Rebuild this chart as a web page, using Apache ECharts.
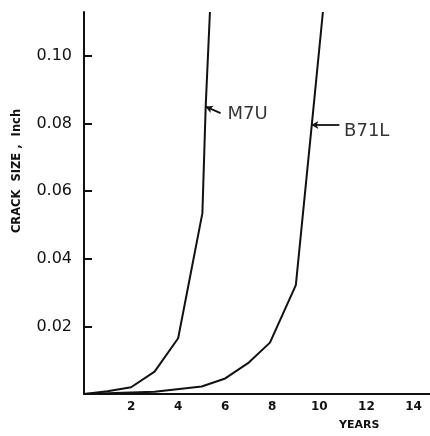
<!DOCTYPE html>
<html><head><meta charset="utf-8">
<script src="https://cdn.jsdelivr.net/npm/echarts@6/dist/echarts.min.js"></script>
<style>html,body{margin:0;padding:0;background:#fff}#c{width:430px;height:436px}</style>
</head><body><div id="c"></div>
<script>
var m7uX = [0, 1, 2, 3, 4, 5.03, 5.17, 5.35];
var m7uY = [0, 0.0008, 0.002, 0.0066, 0.0165, 0.0535, 0.085, 0.113];
var b71lX = [0, 3, 5, 6, 7, 7.9, 9.0, 9.79, 10.15];
var b71lY = [0, 0.0007, 0.0022, 0.0046, 0.0093, 0.0152, 0.0322, 0.0875, 0.113];
var xTicks = [2, 4, 6, 8, 10, 12, 14];
var yTicks = [0.02, 0.04, 0.06, 0.08, 0.10];
var seriesNames = ['M7U', 'B71L'];
// annotation anchors (data coords): [curveX, curveY, arrowEndX, arrowEndY, textX, textY]
var labelM7U = [5.17, 0.085, 5.8, 0.0831, 6.1, 0.0828];
var labelB71L = [9.66, 0.0796, 10.85, 0.0796, 11.05, 0.0778];

function pairs(xs, ys){ return xs.map(function(x,i){ return [x, ys[i]]; }); }
function ann(a){
  return {
    silent: true,
    symbol: ['arrow','none'], symbolSize: [6, 7],
    lineStyle: {color:'#111', width: 1.8, type:'solid'},
    label: {show:false},
    emphasis: {disabled: true},
    data: [[{coord:[a[0],a[1]]},{coord:[a[2],a[3]]}]]
  };
}
var chart = echarts.init(document.getElementById('c'));
chart.setOption({
  animation: false,
  grid: {left: 84, right: 0, top: 12, bottom: 42},
  xAxis: {
    type: 'value', min: 0, max: 14.7, interval: 2,
    axisLine: {show: true, lineStyle: {color:'#111', width: 2}},
    axisTick: {show: false},
    splitLine: {show: false},
    axisLabel: {customValues: xTicks, color:'#111', fontFamily:'DejaVu Sans', fontWeight:'bold',
                fontSize: 12, margin: 7}
  },
  yAxis: {
    type: 'value', min: 0, max: 0.113, interval: 0.02,
    axisLine: {show: true, lineStyle: {color:'#111', width: 2}},
    axisTick: {show: true, inside: true, length: 8, customValues: yTicks, lineStyle:{color:'#111', width:2}},
    splitLine: {show: false},
    axisLabel: {customValues: yTicks, color:'#111', fontFamily:'DejaVu Sans', fontSize: 16, margin: 12,
                formatter: function(v){ return v.toFixed(2); }}
  },
  graphic: [
    {type:'text', left: 339, top: 420, style:{text:'YEARS', fill:'#111', font:'bold 11px "DejaVu Sans"'}},
    {type:'text', x: 17, y: 171, rotation: Math.PI/2, style:{text:'CRACK  SIZE ,  Inch', fill:'#111',
      font:'bold 11.5px "DejaVu Sans"', align:'center', verticalAlign:'middle'}}
  ],
  series: [
    {name: seriesNames[0], type:'line', data: pairs(m7uX, m7uY), symbol:'none', clip: false,
     lineStyle:{color:'#111', width: 2}, markLine: ann(labelM7U)},
    {name: seriesNames[1], type:'line', data: pairs(b71lX, b71lY), symbol:'none', clip: false,
     lineStyle:{color:'#111', width: 2}, markLine: ann(labelB71L)},
    {type:'scatter', data: [[labelM7U[4], labelM7U[5]]], symbolSize: 0, silent: true,
     label:{show:true, position:'right', distance: 0, formatter: seriesNames[0], color:'#000', fontFamily:'DejaVu Sans', fontSize:18}},
    {type:'scatter', data: [[labelB71L[4], labelB71L[5]]], symbolSize: 0, silent: true,
     label:{show:true, position:'right', distance: 0, formatter: seriesNames[1], color:'#000', fontFamily:'DejaVu Sans', fontSize:18}}
  ]
});
</script></body></html>
